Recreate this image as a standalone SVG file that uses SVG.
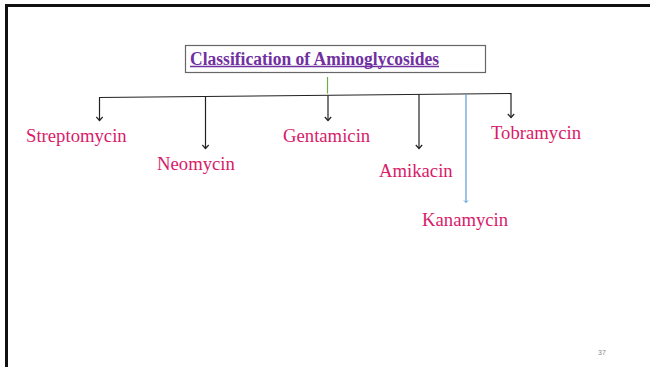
<svg xmlns="http://www.w3.org/2000/svg" width="650" height="367" viewBox="0 0 650 367">
  <style>
    .frame { fill: none; stroke: #111; stroke-width: 3; }
    .title-box { fill: #fff; stroke: #666; stroke-width: 1.2; }
    .title { font-family: "Liberation Serif", "Times New Roman", serif; font-weight: bold; font-size: 18px; fill: #7030A0; }
    .drug { font-family: "Liberation Serif", "Times New Roman", serif; font-size: 18.7px; fill: #D81B6A; }
    .bar { fill: none; stroke: #222; stroke-width: 1.2; }
    .drop { fill: none; stroke: #222; stroke-width: 1.2; marker-end: url(#arrow); }
    .drop-blue { fill: none; stroke: #5B9BD5; stroke-width: 1.2; marker-end: url(#arrow-blue); }
    .stem { fill: none; stroke: #70AD47; stroke-width: 1.2; }
    .page { font-family: "Liberation Sans", Arial, sans-serif; font-size: 7px; fill: #888; }
  </style>
  <defs>
    <!-- open V heads drawn pointing along +x; orient="auto" turns them down the drop lines -->
    <marker id="arrow" markerWidth="8" markerHeight="8" refX="6" refY="4" orient="auto" markerUnits="userSpaceOnUse" viewBox="0 0 8 8">
      <path d="M2.5,0.8 L6,4 L2.5,7.2" fill="none" stroke="#222" stroke-width="1.2"/>
    </marker>
    <marker id="arrow-blue" markerWidth="6" markerHeight="6" refX="4" refY="3" orient="auto" markerUnits="userSpaceOnUse" viewBox="0 0 6 6">
      <path d="M2,1 L4,3 L2,5" fill="none" stroke="#5B9BD5" stroke-width="1"/>
    </marker>
  </defs>

  <!-- slide frame -->
  <path class="frame" d="M6.5,367 V5.5 H650"/>

  <!-- title node -->
  <g id="title">
    <rect class="title-box" x="185.5" y="45.5" width="300" height="27"/>
    <text class="title" x="190" y="64.5" textLength="249" lengthAdjust="spacingAndGlyphs">Classification of Aminoglycosides</text>
    <line x1="190" y1="66.5" x2="439" y2="66.5" stroke="#7030A0" stroke-width="1.5"/>
  </g>

  <!-- connectors -->
  <g id="connectors">
    <line class="stem" x1="327.5" y1="77" x2="327.5" y2="93.5"/>
    <line class="bar" x1="99" y1="97.5" x2="511.5" y2="93.5"/>
    <line class="drop" x1="99.5" y1="97.5" x2="99.5" y2="120.5"/>
    <line class="drop" x1="205.5" y1="96.5" x2="205.5" y2="148.5"/>
    <line class="drop" x1="328" y1="95.5" x2="328" y2="120.5"/>
    <line class="drop" x1="419" y1="94.5" x2="419" y2="148.5"/>
    <line class="drop-blue" x1="466" y1="94" x2="466" y2="202.5"/>
    <line class="drop" x1="511" y1="93.5" x2="511" y2="117.5"/>
  </g>

  <!-- drug nodes -->
  <g id="streptomycin"><text class="drug" x="26" y="141.5">Streptomycin</text></g>
  <g id="neomycin"><text class="drug" x="157" y="170">Neomycin</text></g>
  <g id="gentamicin"><text class="drug" x="283" y="142">Gentamicin</text></g>
  <g id="amikacin"><text class="drug" x="379" y="176.5">Amikacin</text></g>
  <g id="kanamycin"><text class="drug" x="422" y="225.5">Kanamycin</text></g>
  <g id="tobramycin"><text class="drug" x="491" y="138.5">Tobramycin</text></g>

  <!-- slide number -->
  <text class="page" x="598" y="355">37</text>
</svg>
